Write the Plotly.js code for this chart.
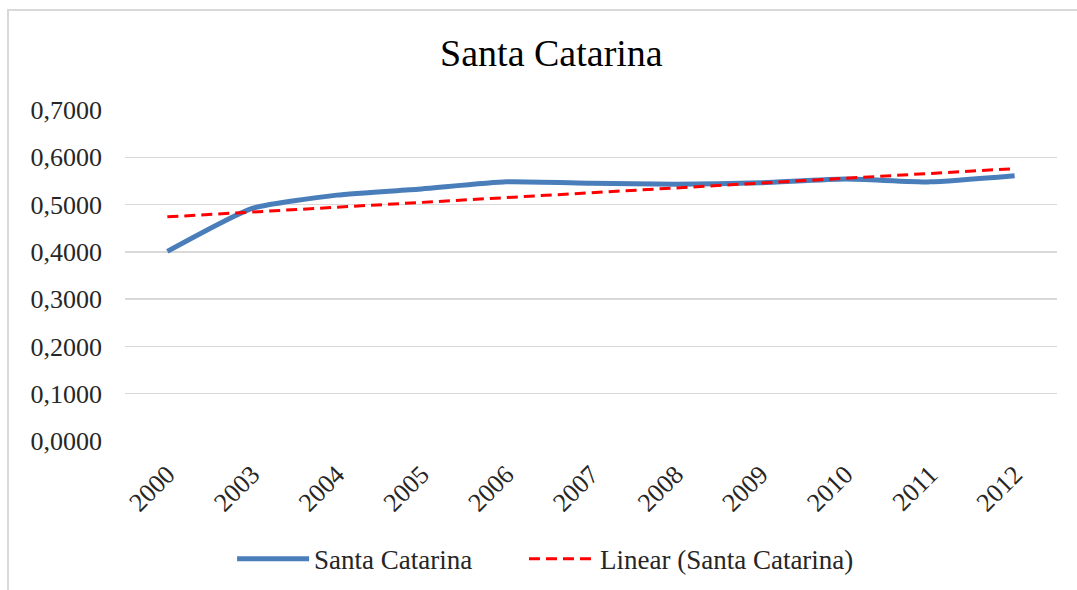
<!DOCTYPE html>
<html>
<head>
<meta charset="utf-8">
<script src="https://cdn.plot.ly/plotly-3.0.1.min.js"></script>
<style>
  html, body { margin: 0; padding: 0; background: #ffffff; }
  #wrap { position: relative; width: 1077px; height: 590px; overflow: hidden; }
  #chart { position: absolute; left: 0; top: 0; width: 1077px; height: 590px; }
  #frame { position: absolute; left: 7px; top: 9px; width: 1080px; height: 600px;
           border-left: 2px solid #d9d9d9; border-top: 2px solid #d9d9d9; pointer-events: none; }
</style>
</head>
<body>
<div id="wrap">
  <div id="chart"></div>
  <div id="frame"></div>
</div>
<script>
// Data
const years = ["2000", "2003", "2004", "2005", "2006", "2007", "2008", "2009", "2010", "2011", "2012"];
const santaCatarina = [0.401, 0.492, 0.520, 0.533, 0.548, 0.545, 0.543, 0.546, 0.554, 0.548, 0.561];
const trendYears = ["2000", "2012"];
const trendValues = [0.474, 0.576];
const yTickValues = [0, 0.1, 0.2, 0.3, 0.4, 0.5, 0.6, 0.7];
const yTickLabels = ["0,0000", "0,1000", "0,2000", "0,3000", "0,4000", "0,5000", "0,6000", "0,7000"];

const serif = "Liberation Serif, Times New Roman, serif";

const traces = [
  {
    x: years, y: santaCatarina, type: "scatter", mode: "lines",
    name: "Santa Catarina", legend: "legend",
    line: { color: "#4a7ebb", width: 5, shape: "spline", smoothing: 0.5 }
  },
  {
    x: trendYears, y: trendValues, type: "scatter", mode: "lines",
    name: "Linear (Santa Catarina)", legend: "legend2",
    line: { color: "#ff0000", width: 3, dash: "11px,6px" }
  }
];

const legendFont = { family: serif, size: 27, color: "#262626" };

const layout = {
  width: 1077, height: 590,
  paper_bgcolor: "#ffffff", plot_bgcolor: "#ffffff",
  margin: { l: 125, r: 20, t: 110, b: 149, autoexpand: false },
  title: {
    text: "Santa Catarina",
    font: { family: serif, size: 38, color: "#000000" },
    xref: "container", x: 0.512, xanchor: "center",
    yref: "container", y: 0.91, yanchor: "middle"
  },
  xaxis: {
    type: "category",
    categoryorder: "array", categoryarray: years,
    range: [-0.5, 10.5],
    tickangle: -45,
    tickfont: { family: serif, size: 26, color: "#262626" },
    showgrid: false, zeroline: false, showline: false,
    ticks: "", ticklen: 0, ticklabelstandoff: 12,
    fixedrange: true
  },
  yaxis: {
    range: [0, 0.7],
    tickvals: yTickValues, ticktext: yTickLabels,
    tickfont: { family: serif, size: 26, color: "#262626" },
    showgrid: true, gridcolor: "#d9d9d9", gridwidth: 1.5,
    zeroline: false, showline: false,
    ticks: "", ticklabelstandoff: 22,
    fixedrange: true
  },
  showlegend: true,
  legend: {
    orientation: "h",
    xref: "container", x: 0.2155, xanchor: "left",
    yref: "container", y: 0.052, yanchor: "middle",
    font: legendFont, itemwidth: 72,
    bgcolor: "rgba(0,0,0,0)"
  },
  legend2: {
    orientation: "h",
    xref: "container", x: 0.4865, xanchor: "left",
    yref: "container", y: 0.052, yanchor: "middle",
    font: legendFont, itemwidth: 66,
    bgcolor: "rgba(0,0,0,0)"
  }
};

Plotly.newPlot("chart", traces, layout, { displayModeBar: false, staticPlot: true });
</script>
</body>
</html>
